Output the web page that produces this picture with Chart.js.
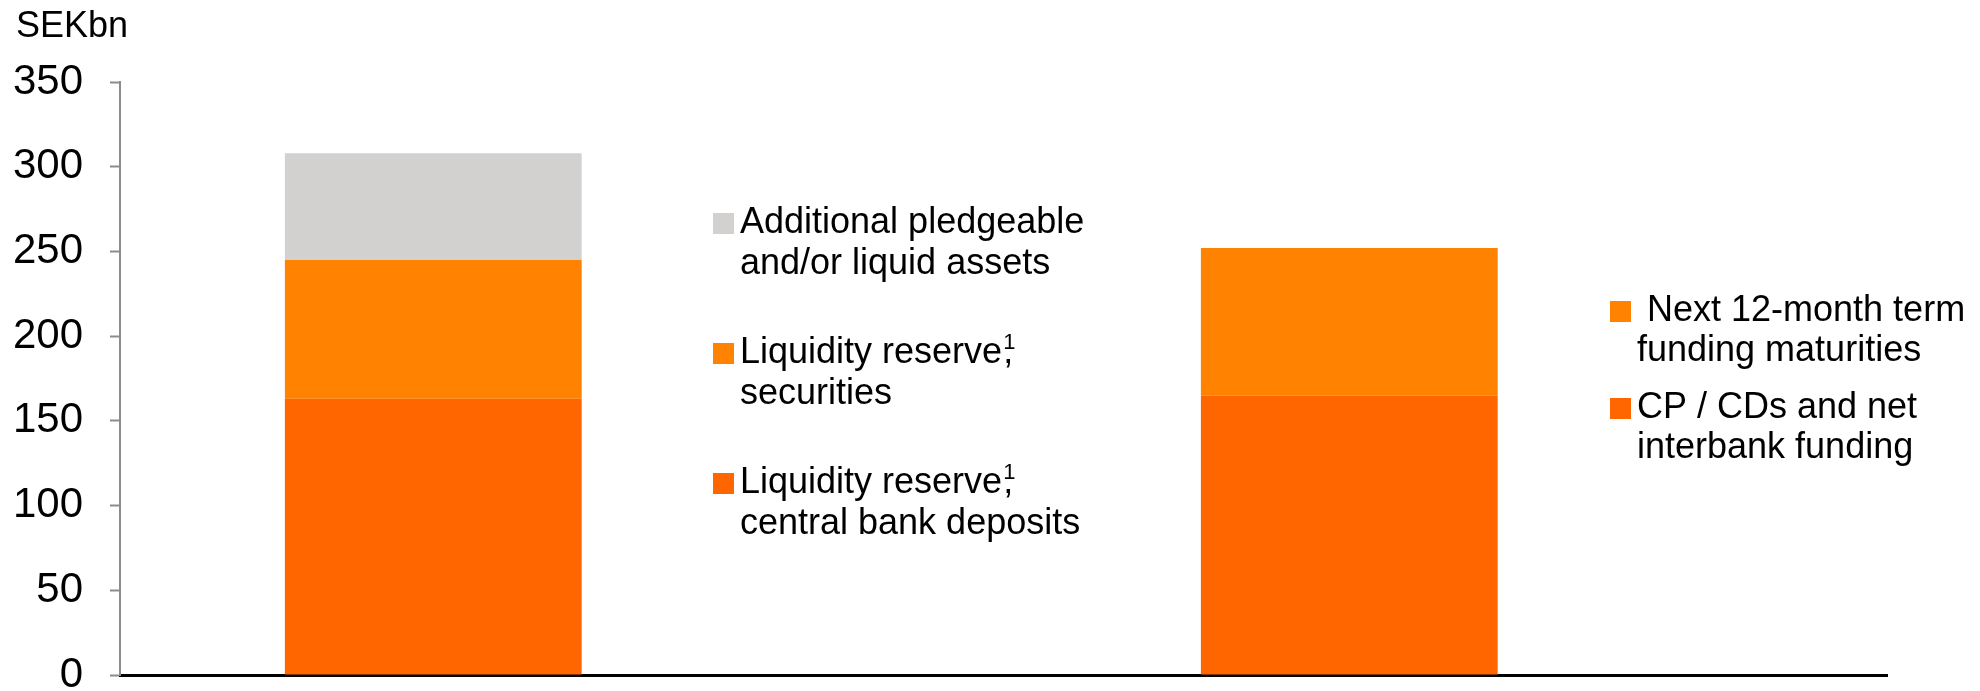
<!DOCTYPE html>
<html>
<head>
<meta charset="utf-8">
<title>Liquidity reserve vs short-term funding</title>
<script src="https://cdn.jsdelivr.net/npm/chart.js@4.4.1/dist/chart.umd.min.js"></script>
<style>
  html, body { margin: 0; padding: 0; background: #fff; }
  #wrap { width: 1980px; height: 691px; }
</style>
</head>
<body>
<div id="wrap"><canvas id="liquidityChart" width="1980" height="691"></canvas></div>
<script>
// ---- data (SEKbn) ----
const columns = ['Liquidity', 'Funding'];          // column 0 = assets side, 1 = funding side
const yTicks = [0, 50, 100, 150, 200, 250, 300, 350];

// left column
const centralBankDeposits = [163, null];
const reserveSecurities   = [82, null];
const additionalAssets    = [63, null];
// right column
const cpCdsInterbank      = [null, 165];
const termMaturities      = [null, 87];

const FONT = "'Liberation Sans', Arial, Helvetica, sans-serif";
const DARK = '#FF6600';
const MID  = '#FF8200';
const GREY = '#D2D1CF';

// {x: column index, y: value}, empty columns dropped
function points(values) {
  return values
    .map((v, i) => ({ x: i, y: v }))
    .filter(p => p.y !== null);
}

const datasets = [
  { label: ['Liquidity reserve¹,', 'central bank deposits'], data: points(centralBankDeposits), backgroundColor: DARK },
  { label: ['Liquidity reserve¹,', 'securities'], data: points(reserveSecurities), backgroundColor: MID },
  { label: ['Additional pledgeable', 'and/or liquid assets'], data: points(additionalAssets), backgroundColor: GREY },
  { label: ['CP / CDs and net', 'interbank funding'], data: points(cpCdsInterbank), backgroundColor: DARK },
  { label: [' Next 12-month term', 'funding maturities'], data: points(termMaturities), backgroundColor: MID }
];

// draws one text line, turning "¹" into a raised small 1 sitting over what follows
function drawLine(ctx, text, x, y) {
  const parts = text.split('¹');
  ctx.font = '36px ' + FONT;
  ctx.fillText(parts[0], x, y);
  if (parts.length > 1) {
    const sx = x + ctx.measureText(parts[0]).width + 1;
    ctx.fillText(parts[1], sx, y);
    ctx.font = '22px ' + FONT;
    ctx.fillText('1', sx, y - 14);
  }
}

// side legends + unit label, placed as text boxes
const textBoxes = {
  id: 'textBoxes',
  afterDraw(chart, args, opts) {
    const ctx = chart.ctx;
    ctx.save();
    ctx.textAlign = 'left';
    ctx.textBaseline = 'alphabetic';

    opts.groups.forEach(g => {
      g.entries.forEach((dsIndex, k) => {
        const ds = chart.data.datasets[dsIndex];
        const base = g.baselines[k];
        ctx.fillStyle = ds.backgroundColor;
        ctx.fillRect(g.boxX, base - 20, 21, 21);
        ctx.fillStyle = '#000';
        ds.label.forEach((line, li) => drawLine(ctx, line, g.textX, base + li * g.lineGap));
      });
    });

    ctx.fillStyle = '#000';
    ctx.font = '36px ' + FONT;
    ctx.fillText(opts.unit, 16, 37);
    ctx.restore();
  }
};

new Chart(document.getElementById('liquidityChart'), {
  type: 'bar',
  data: { datasets },
  plugins: [textBoxes],
  options: {
    responsive: false,
    animation: false,
    layout: { padding: { top: 82, left: 13, right: 93, bottom: 16 } },
    datasets: { bar: { barPercentage: 0.324, categoryPercentage: 1 } },
    plugins: {
      legend: { display: false },
      tooltip: { enabled: false },
      textBoxes: {
        unit: 'SEKbn',
        groups: [
          { entries: [2, 1, 0], boxX: 713, textX: 740, baselines: [233, 363, 493], lineGap: 41 },
          { entries: [4, 3], boxX: 1610, textX: 1637, baselines: [321, 418], lineGap: 40 }
        ]
      }
    },
    scales: {
      x: {
        type: 'linear',
        offset: false,
        min: -0.342,
        max: 1.587,
        stacked: true,
        afterBuildTicks: s => { s.ticks = columns.map((c, i) => ({ value: i })); },
        afterFit: s => { s.height = 0; },
        ticks: { display: false },
        grid: { display: true, drawOnChartArea: false, drawTicks: false },
        border: { color: '#000', width: 3 }
      },
      y: {
        min: 0,
        max: 350,
        stacked: true,
        afterBuildTicks: s => { s.ticks = yTicks.map(v => ({ value: v })); },
        // fixed axis width; the "0" label may hang below the plot like a slide chart
        afterFit: s => { s.width = 107; s.paddingTop = 0; s.paddingBottom = 0; },
        ticks: {
          padding: 27,
          color: '#000',
          font: { family: FONT, size: 42, lineHeight: 0.7 }
        },
        grid: {
          drawOnChartArea: false,
          tickLength: 10,
          tickColor: '#8c8c8c',
          tickWidth: 2
        },
        border: { color: '#8c8c8c', width: 2 }
      }
    }
  }
});
</script>
</body>
</html>
